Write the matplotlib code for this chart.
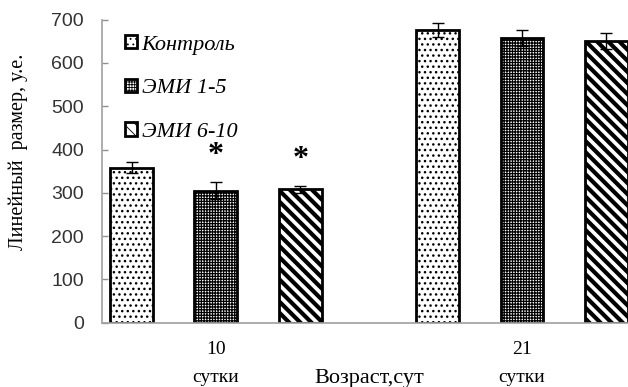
import matplotlib
matplotlib.use("Agg")
import matplotlib.pyplot as plt
import numpy as np

# data
groups = ["10\nсутки", "21\nсутки"]
series = ["Контроль", "ЭМИ 1-5", "ЭМИ 6-10"]
values = [
    [358, 676],   # Контроль
    [305, 658],   # ЭМИ 1-5
    [308, 650],   # ЭМИ 6-10
]
errors = [
    [13, 16],
    [19, 19],
    [8, 19],
]
signif = [
    [False, False],
    [True, False],
    [True, False],
]
yticks = [0, 100, 200, 300, 400, 500, 600, 700]

hatches = ["...", "++++++", "\\\\\\"]
hatch_lw = [1.0, 0.9, 3.0]

fig = plt.figure(figsize=(6.28, 3.87), dpi=100)
W, H = 628, 387
ax = fig.add_axes([102 / W, (H - 322.7) / H, (W - 102) / W, (322.7 - 19.6) / H])

x = np.arange(len(groups))
step = 0.276
width = 0.1405
for i, name in enumerate(series):
    with plt.rc_context({"hatch.linewidth": hatch_lw[i], "hatch.color": "black"}):
        ax.bar(x + (i - 1) * step, values[i], width, color="white",
               edgecolor="black", linewidth=2.0, hatch=hatches[i],
               label=name, zorder=2)
    ax.errorbar(x + (i - 1) * step, values[i], yerr=errors[i], fmt="none",
                ecolor="black", elinewidth=1.0, capsize=4.5, capthick=1.0, zorder=3)
    for j in range(len(groups)):
        if signif[i][j]:
            ax.text(x[j] + (i - 1) * step, values[i][j] + errors[i][j] + 62, "*",
                    ha="center", va="center", fontsize=23, fontweight="bold",
                    family="Liberation Serif")

ax.set_xlim(-0.3725, 1.3464)
ax.set_ylim(0, 700)
ax.set_yticks(yticks)
ax.set_xticks(x)
ax.set_xticklabels(groups, family="Liberation Serif", fontsize=14, linespacing=1.85)
ax.tick_params(axis="x", length=0, pad=13)
ax.tick_params(axis="y", direction="in", length=4.5, width=1.0, color="#909090",
               pad=13, labelsize=14, labelcolor="#333333")
for lab in ax.get_yticklabels():
    lab.set_family("Liberation Sans")

for s in ["top", "right"]:
    ax.spines[s].set_visible(False)
for s in ["left", "bottom"]:
    ax.spines[s].set_color("#a0a0a0")
    ax.spines[s].set_linewidth(1.2)

with plt.rc_context({"hatch.linewidth": 0.6}):
    ax.legend(loc="upper left", bbox_to_anchor=(125 / W, 1 - 35 / H),
              bbox_transform=fig.transFigure, frameon=False,
              prop={"family": "Liberation Serif", "style": "italic", "size": 16},
              handlelength=0.55, handleheight=0.55, handletextpad=0.2,
              labelspacing=1.08, borderpad=0, borderaxespad=0)

fig.text(369 / W, 1 - 378 / H, "Возраст,сут", ha="center", va="center",
         family="Liberation Serif", fontsize=16)
fig.text(18 / W, 1 - 152 / H, "Линейный  размер, у.е.", ha="center", va="center",
         rotation=90, family="Liberation Serif", fontsize=14.5)

fig.savefig("out.png", dpi=100)
